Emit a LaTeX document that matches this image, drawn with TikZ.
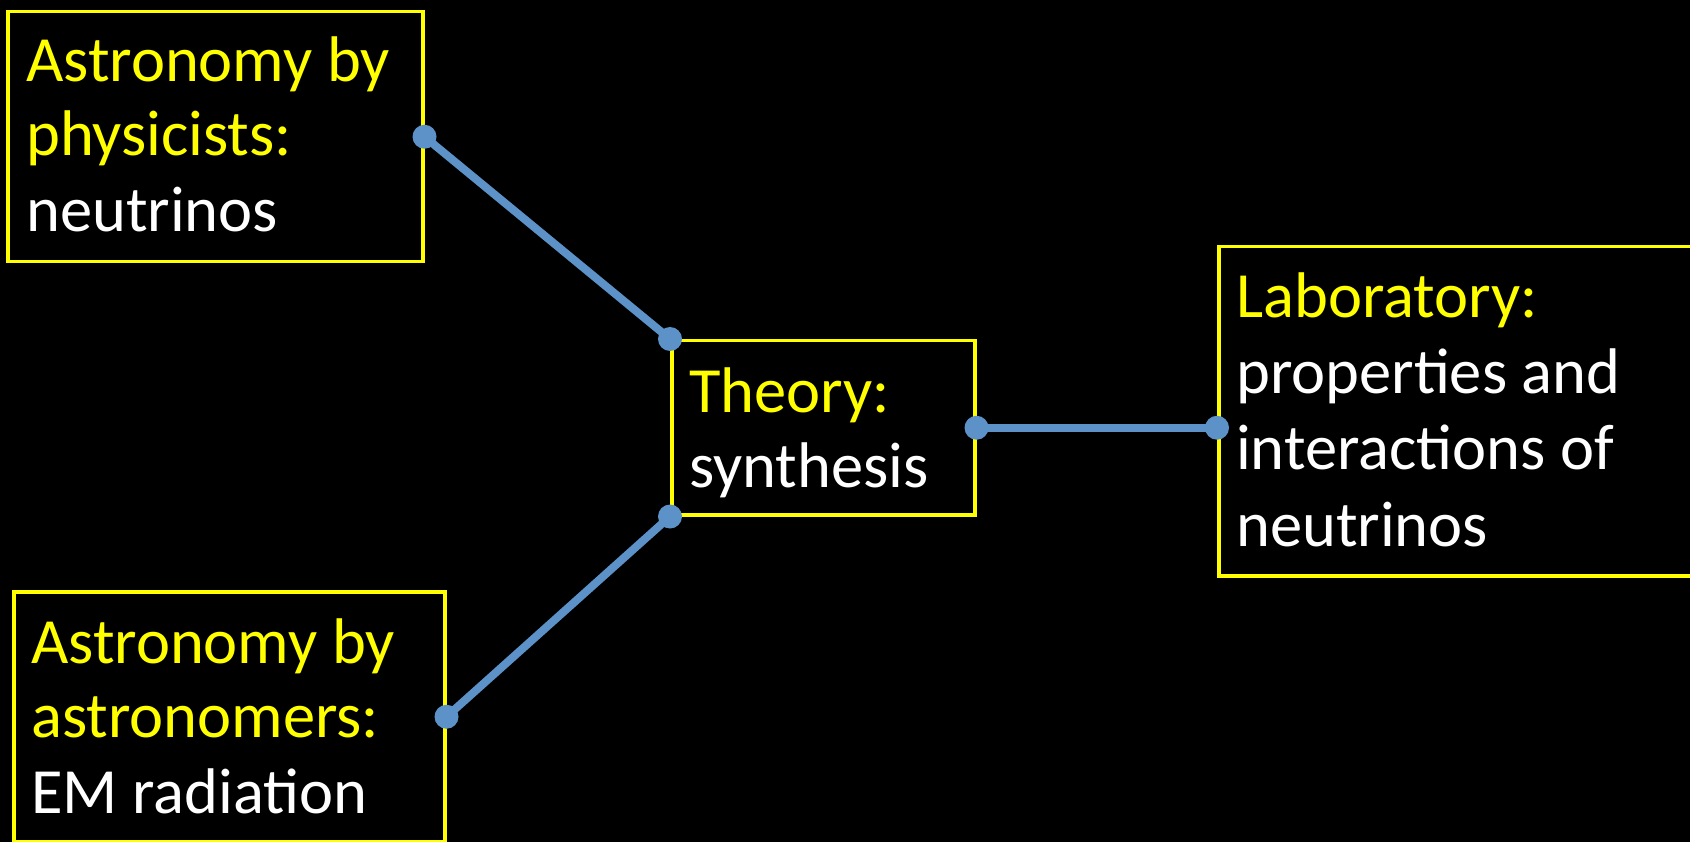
\documentclass[tikz,border=0pt]{standalone}
\usepackage{fontspec}
\setmainfont{Carlito}
\definecolor{ylw}{RGB}{255,255,0}
\definecolor{conn}{RGB}{93,146,200}
\begin{document}
\begin{tikzpicture}[x=1pt,y=-1pt,
  box/.style={draw=ylw, line width=3.5pt, inner sep=0pt, anchor=north west},
  hd/.style={text=ylw, anchor=base west, inner sep=0pt, font=\fontsize{64.5}{76}\selectfont},
  bd/.style={hd, text=white},
  link/.style={draw=conn, line width=8pt},
  dotc/.style={fill=conn}]
\fill[black] (0,0) rectangle (1690,842);
\useasboundingbox (0,0) rectangle (1690,842);
\clip (0,0) rectangle (1690,842);
% boxes
\node[box, minimum width=415pt, minimum height=250pt] (phys) at (6,10) {};
\node[box, minimum width=303pt, minimum height=174pt] (theo) at (670,339) {};
\node[box, minimum width=600pt, minimum height=329pt] (lab) at (1217,245) {};
\node[box, minimum width=431pt, minimum height=250pt] (astr) at (12,590) {};
% texts
\node[hd] (p1) at (26,82) {Astronomy by};
\node[hd] (p2) at (26,156) {physicists:};
\node[bd] (p3) at (26,232) {neutrinos};
\node[hd] (th1) at (689,412) {Theory:};
\node[bd] (th2) at (689,487) {synthesis};
\node[hd] (l1) at (1236,318) {Laboratory:};
\node[bd] (l2) at (1236,393) {properties and};
\node[bd] (l3) at (1236,469) {interactions of};
\node[bd] (l4) at (1236,546) {neutrinos};
\node[hd] (a1) at (31,663) {Astronomy by};
\node[hd] (a2) at (31,737) {astronomers:};
\node[bd] (a3) at (31,813) {EM radiation};
% connectors
\coordinate (labin) at (lab.west |- theo.east);
\draw[link] (phys.east) -- (theo.north west);
\draw[link] (astr.east) -- (theo.south west);
\draw[link] (theo.east) -- (labin);
\foreach \c in {phys.east, theo.north west, theo.south west, astr.east, theo.east, labin}
  \fill[dotc] (\c) circle (12pt);
\end{tikzpicture}
\end{document}
